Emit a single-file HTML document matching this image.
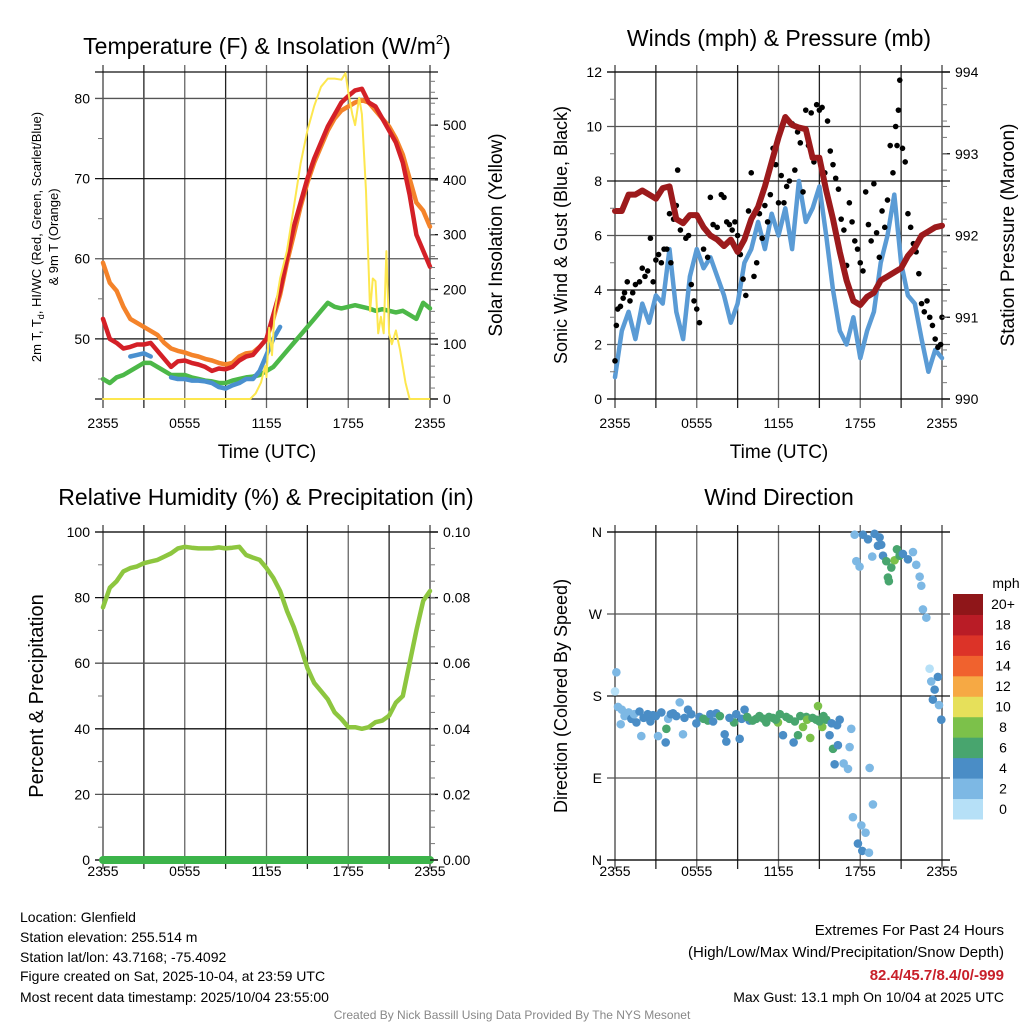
<!DOCTYPE html>
<html><head><meta charset="utf-8"><style>
html,body{margin:0;padding:0;background:#fff;width:1024px;height:1024px;overflow:hidden}
svg{display:block;font-family:"Liberation Sans",Arial,sans-serif}
</style></head><body>
<svg id="chart" width="1024" height="1024" viewBox="0 0 1024 1024">
<g id="grids"></g>
<g id="marks"></g>
<g id="axes"></g>
<text x="267" y="54" font-size="23" text-anchor="middle">Temperature (F) &amp; Insolation (W/m<tspan font-size="13" dy="-10">2</tspan><tspan dy="10">)</tspan></text>
<text x="779" y="46" font-size="23" text-anchor="middle">Winds (mph) &amp; Pressure (mb)</text>
<text x="266" y="505" font-size="23" text-anchor="middle">Relative Humidity (%) &amp; Precipitation (in)</text>
<text x="779" y="505" font-size="23" text-anchor="middle">Wind Direction</text>
<text transform="translate(41,237) rotate(-90)" font-size="13" text-anchor="middle">2m T, T<tspan font-size="9" dy="3">d</tspan><tspan dy="-3">, HI/WC (Red, Green, Scarlet/Blue)</tspan></text>
<text transform="translate(58,237) rotate(-90)" font-size="13" text-anchor="middle">&amp; 9m T (Orange)</text>
<text transform="translate(502,235) rotate(-90)" font-size="19" text-anchor="middle">Solar Insolation (Yellow)</text>
<text transform="translate(567,235) rotate(-90)" font-size="18" text-anchor="middle">Sonic Wind &amp; Gust (Blue, Black)</text>
<text transform="translate(1014,235) rotate(-90)" font-size="19" text-anchor="middle">Station Pressure (Maroon)</text>
<text transform="translate(43,696) rotate(-90)" font-size="20" text-anchor="middle">Percent &amp; Precipitation</text>
<text transform="translate(567,696) rotate(-90)" font-size="18" text-anchor="middle">Direction (Colored By Speed)</text>
<text x="267" y="458" font-size="19" text-anchor="middle">Time (UTC)</text>
<text x="779" y="458" font-size="19" text-anchor="middle">Time (UTC)</text>
<g font-size="14">
<text x="20" y="922">Location: Glenfield</text>
<text x="20" y="942">Station elevation: 255.514 m</text>
<text x="20" y="962">Station lat/lon: 43.7168; -75.4092</text>
<text x="20" y="981">Figure created on Sat, 2025-10-04, at 23:59 UTC</text>
<text x="20" y="1002">Most recent data timestamp: 2025/10/04 23:55:00</text>
</g>
<g font-size="15" text-anchor="end">
<text x="1004" y="935">Extremes For Past 24 Hours</text>
<text x="1004" y="957">(High/Low/Max Wind/Precipitation/Snow Depth)</text>
<text x="1004" y="980" fill="#c8202a" font-weight="bold">82.4/45.7/8.4/0/-999</text>
<text x="1004" y="1002" font-size="14">Max Gust: 13.1 mph On 10/04 at 2025 UTC</text>
</g>
<text x="512" y="1019" font-size="12" fill="#888" text-anchor="middle">Created By Nick Bassill Using Data Provided By The NYS Mesonet</text>
</svg>
<script>
// ---- data (hours since 2355 UTC) ----
const halfHours = [0,0.5,1,1.5,2,2.5,3,3.5,4,4.5,5,5.5,6,6.5,7,7.5,8,8.5,9,9.5,10,10.5,11,11.5,12,12.5,13,13.5,14,14.5,15,15.5,16,16.5,17,17.5,18,18.5,19,19.5,20,20.5,21,21.5,22,22.5,23,23.5,24];
const xTickLabels = ["2355","0555","1155","1755","2355"];
const temp2m = [52.5,50,49.5,48.8,49,49.3,49.3,49.5,48.5,47.5,46.5,47.2,47.3,47,46.8,46.5,46,46.3,46.2,46.5,47.3,47.8,48,49,50,53,56,60,64,67,70,72.5,74.5,76.5,78,79.5,80.3,81,81.2,79.5,79,77.5,76,74.5,72,68,63,61,59];
const temp9m = [59.5,57,56,54,52.5,52,51.5,51,50.5,49.5,48.8,48.5,48.3,48,47.8,47.5,47.3,47,46.8,47,47.8,48.2,48.3,49,50,52.5,55.5,59.5,63,66.5,69.5,72,74,76,77.5,78.5,79,79.5,79.8,79.5,78.5,77.5,76.5,75,73,70,67,66,64];
const dewpoint = [45,44.5,45.2,45.5,46,46.5,47,47,46.5,46,45.5,45.5,45.5,45.2,45,44.8,44.7,44.5,44.5,44.8,45,45.2,45.3,45.5,46,46.5,47.5,48.5,49.5,50.5,51.5,52.5,53.5,54.5,54,53.8,54,54.2,54,53.8,53.5,53.7,53.5,53.3,53.5,53,52.5,54.5,53.8];
const heatIndex = [null,null,null,null,47.8,48,48.2,47.8,null,null,45.2,45,45,44.8,44.8,44.7,44.5,44,43.8,44.2,44.5,45,45,46,48,50,51.5,null,56.5,null,null,null,null,null,null,null,null,null,null,null,null,null,null,null,null,null,null,null,null];
const solarTimes = [0,10.8,11.2,11.6,11.9,12.0,12.2,12.4,12.6,13,13.5,14,14.5,15,15.5,16,16.5,17,17.5,17.8,18,18.3,18.5,18.8,19,19.3,19.6,19.8,20.0,20.2,20.4,20.6,20.8,21,21.2,21.5,21.8,22.2,22.5,24];
const solar = [0,0,10,30,60,40,130,80,160,220,270,350,430,490,535,570,585,585,583,595,560,520,500,550,520,380,160,220,215,120,150,120,270,120,100,125,90,30,0,0];
const windSpeed = [0.8,2.5,3.2,2.2,3.5,2.8,3.8,3.5,5.5,3.2,2.2,4.5,5.5,4.8,5.2,4.5,3.8,2.8,3.5,5.0,5.5,6.5,5.5,6.8,6.0,7.0,5.5,8.0,6.5,7.0,7.8,6.0,4.0,2.5,2.0,3.0,1.5,2.5,3.2,5.0,6.0,7.5,5.0,3.8,3.5,2.2,1.0,1.8,1.5];
const pressure = [992.3,992.3,992.5,992.5,992.55,992.5,992.45,992.58,992.6,992.2,992.15,992.25,992.25,992.1,992.0,991.95,991.87,991.95,991.8,991.95,992.2,992.35,992.6,992.9,993.2,993.45,993.35,993.32,993.3,992.95,992.95,992.55,992.2,991.8,991.45,991.2,991.15,991.25,991.3,991.45,991.5,991.55,991.6,991.75,991.85,992.0,992.05,992.1,992.12];
const gustTimes = [0.0,0.1,0.2,0.4,0.6,0.7,0.9,1.1,1.3,1.5,1.8,2.0,2.2,2.4,2.6,2.8,3.0,3.2,3.4,3.6,3.8,4.0,4.1,4.3,4.5,4.6,4.8,5.0,5.2,5.4,5.6,5.8,6.0,6.2,6.5,6.8,7.0,7.2,7.5,7.8,8.0,8.2,8.4,8.6,8.8,9.0,9.2,9.4,9.6,9.8,10.0,10.2,10.4,10.6,10.8,11.0,11.2,11.4,11.6,11.8,12.0,12.2,12.4,12.6,12.8,13.0,13.2,13.4,13.6,13.8,14.0,14.2,14.4,14.6,14.8,15.0,15.2,15.4,15.6,15.8,16.0,16.2,16.4,16.6,16.8,17.0,17.2,17.4,17.6,17.8,18.0,18.2,18.4,18.6,18.8,19.0,19.2,19.4,19.6,19.8,20.0,20.2,20.4,20.6,20.7,20.8,20.9,21.1,21.3,21.5,21.7,21.9,22.1,22.3,22.5,22.7,22.9,23.1,23.3,23.5,23.7,23.9,24.0];
const gusts = [1.4,2.7,3.3,3.4,3.7,3.9,4.3,3.6,3.9,4.2,4.3,4.8,4.5,4.7,5.9,4.3,5.1,5.3,5.0,5.5,5.5,6.8,5.0,6.6,7.1,8.4,6.2,6.5,5.9,6.0,4.2,3.6,3.3,2.8,5.5,5.2,7.4,6.4,6.3,7.5,7.4,6.5,6.4,6.2,6.5,6.0,5.3,4.4,3.8,6.9,8.3,4.5,5.0,6.8,5.9,7.1,6.5,7.5,9.2,8.6,7.2,8.2,7.2,7.8,8.0,10.1,8.4,9.8,9.4,7.6,10.6,9.3,10.5,8.7,10.8,10.6,10.7,8.3,10.2,9.1,8.6,8.1,7.7,6.6,6.2,4.9,7.2,6.5,5.8,5.5,5.0,4.7,7.6,6.4,5.8,7.9,6.1,5.2,6.9,6.3,7.3,9.3,8.3,10.0,9.3,10.6,11.7,9.2,8.7,6.8,6.3,5.7,5.4,4.6,3.5,3.2,3.6,3.0,2.7,2.2,1.9,2.0,3.0];
const relHumidity = [77,83,85,88,89,89.5,90.5,91,91.5,92.5,93.5,95,95.5,95.2,95,95,95,95.3,95,95.2,95.5,93,92.2,91.5,89,86,82,76,71,65,58.5,54,51.5,49,45,43,40.5,40.5,40,40.5,42,42.5,44,48,50,60,70,79,82];
const precip = [0,0,0,0,0,0,0,0,0,0,0,0,0,0,0,0,0,0,0,0,0,0,0,0,0,0,0,0,0,0,0,0,0,0,0,0,0,0,0,0,0,0,0,0,0,0,0,0,0];
const dirTimes = [0.1,0,0.22,0.83,0.42,1.57,1.93,2.79,3.16,3.77,3.72,4.26,4.75,4.99,5.36,5.97,6.82,7.44,8.05,8.17,8.73,9.15,9.51,9.88,10.37,11.1,11.59,11.96,12.33,12.57,13.11,13.43,13.8,14.04,14.33,14.77,14.9,15.21,15.51,15.75,16.0,16.12,16.36,16.49,16.78,17.1,17.34,17.22,18.69,18.93,17.46,18.08,18.39,17.83,18.15,18.64,17.59,17.71,17.95,18.2,18.57,19.05,19.42,19.3,18.88,19.67,19.91,19.54,20.1,20.03,20.28,20.52,20.69,20.89,21.13,21.5,21.87,22.11,22.36,22.48,22.6,22.85,23.09,23.21,23.46,23.7,23.33,23.78,23.95,
 0.5,0.7,1.0,1.2,1.4,1.8,2.1,2.4,2.6,3.0,3.4,3.9,4.1,4.5,5.1,5.6,6.2,6.5,7.0,7.2,7.7,8.4,8.9,9.3,9.7,10.1,10.6,10.9,11.3,11.8,12.1,12.8,13.2,13.6,14.1,14.5,15.0,15.3,15.9,16.3];
const dirDeg = [206,185,168,161,149,151,136,159,136,144,129,161,173,138,165,150,153,161,138,130,151,133,165,153,155,151,156,151,137,157,129,137,146,157,134,154,169,146,154,137,122,105,126,154,106,100,144,124,101,61,47,38,30,18,10,8,357,328,322,357,352,358,354,345,333,334,328,346,306,310,321,329,341,334,336,330,338,324,311,301,275,266,210,196,187,201,176,170,154,
 165,158,162,155,160,163,156,160,152,158,162,155,160,158,156,160,157,155,160,152,158,156,160,155,157,153,158,155,157,154,160,155,152,158,154,156,152,158,150,148];
const dirSpeed = [3,1.5,2.5,2.5,2.5,4,2.5,4,2.5,6,4,4,2.5,2.5,4,4,6,4,4,4,6,4,4,4,6,6,6,8,4,6,4,6,8,6,8,6,8,8,6,4,6,4,4,4,2.5,2.5,2.5,2.5,2.5,2.5,2.5,2.5,2.5,4,4,2.5,2.5,2.5,2.5,4,4,4,4,4,2.5,4,6,4,6,6,6,8,6,6,4,4,2.5,2.5,2.5,2.5,3,2.5,1,2.5,4,4,4,2.5,4,
 2.5,2.5,2.5,4,2.5,4,4,4,4,4,4,2.5,4,4,4,4,4,6,4,4,6,4,4,4,6,6,6,6,6,6,6,6,6,6,8,6,6,6,4,4];
const speedBinLabels = ["0","2","4","6","8","10","12","14","16","18","20+"];
const speedColors = ["#b6e0f7","#7db8e4","#4a8dc6","#48a56e","#7cc14a","#e6e05a","#f6a944","#f0622e","#dc3328","#b91c26","#8f1619"];

// ---- helpers ----
const NS="http://www.w3.org/2000/svg";
const grids=document.getElementById('grids'), marks=document.getElementById('marks'), axes=document.getElementById('axes');
function el(tag,parent,attrs){const e=document.createElementNS(NS,tag);for(const k in attrs)e.setAttribute(k,attrs[k]);parent.appendChild(e);return e;}
function scale(d0,d1,r0,r1){return v=>r0+(v-d0)*(r1-r0)/(d1-d0);}
const P1={x0:103,x1:430,y0:72,y1:399,lab:29}, P2={x0:615,x1:942,y0:72,y1:399,lab:29}, P3={x0:103,x1:430,y0:532,y1:860,lab:16}, P4={x0:615,x1:942,y0:532,y1:860,lab:16};
[P1,P2,P3,P4].forEach(p=>{p.x=scale(0,24,p.x0,p.x1);});
P1.y=scale(42.5,83.3,P1.y1,P1.y0); P1.yr=scale(0,597,P1.y1,P1.y0);
P2.y=scale(0,12,P2.y1,P2.y0); P2.yr=scale(990,994,P2.y1,P2.y0);
P3.y=scale(0,100,P3.y1,P3.y0); P3.yr=scale(0,0.1,P3.y1,P3.y0);
P4.y=scale(0,360,P4.y1,P4.y0);

function frame(p,name,hVals,hLabels,minorL,rMaj,rLabels,rMinor){
  for(let i=0;i<=8;i++){const x=p.x(i*3);
    const l=el('line',grids,{x1:x,x2:x,y1:p.y0-7,y2:p.y1+9,stroke:(i%2?'#222':'#666'),'stroke-width':(i==0||i==8)?1.6:1.3});
    
    
    if(i%2==0){const t=el('text',axes,{x:x,y:p.y1+p.lab,'font-size':14,'text-anchor':'middle'});t.textContent=xTickLabels[i/2];
      
      }
  }
  hVals.forEach((v,i)=>{const y=p.y(v);
    const l=el('line',grids,{x1:p.x0-8,x2:p.x1+8,y1:y,y2:y,stroke:(i%2?'#555':'#111'),'stroke-width':1.3});
    
    
    const t=el('text',axes,{x:p.x0-13,y:y+5,'font-size':14,'text-anchor':'end'});t.textContent=hLabels[i];
    
    
  });
  el('line',grids,{x1:p.x0-8,x2:p.x1+8,y1:p.y0,y2:p.y0,stroke:'#111','stroke-width':1.3});
  el('line',grids,{x1:p.x0-8,x2:p.x1+8,y1:p.y1,y2:p.y1,stroke:'#111','stroke-width':1.3});
  minorL.forEach(v=>{const y=p.y(v);el('line',axes,{x1:p.x0-5,x2:p.x0,y1:y,y2:y,stroke:'#777','stroke-width':1});});
  if(rMaj){
    rMaj.forEach((v,i)=>{const y=p.yr(v);el('line',axes,{x1:p.x1,x2:p.x1+8,y1:y,y2:y,stroke:'#111','stroke-width':1.3});
      const t=el('text',axes,{x:p.x1+13,y:y+5,'font-size':14});t.textContent=rLabels[i];
      
      });
    rMinor.forEach(v=>{const y=p.yr(v);el('line',axes,{x1:p.x1,x2:p.x1+5,y1:y,y2:y,stroke:'#777','stroke-width':1});});
  }
}
function range(a,b,s){const r=[];for(let v=a;v<=b+1e-9;v+=s)r.push(+v.toFixed(4));return r;}

frame(P1,'temp',[50,60,70,80],["50","60","70","80"],[45,55,65,75],range(0,500,100),["0","100","200","300","400","500"],range(20,580,20));
frame(P2,'wind',range(0,12,2),["0","2","4","6","8","10","12"],[1,3,5,7,9,11],range(990,994,1),["990","991","992","993","994"],range(990.2,993.8,0.2));
frame(P3,'rh',range(0,100,20),["0","20","40","60","80","100"],range(10,90,20),range(0,0.1,0.02),["0.00","0.02","0.04","0.06","0.08","0.10"],range(0.005,0.095,0.005));
frame(P4,'dir',[0,90,180,270,360],["N","E","S","W","N"],[],null);

function line(p,xs,ys,yfn,color,w,name){
  let d='',pen=false;
  xs.forEach((t,i)=>{const v=ys[i];if(v===null||v===undefined){pen=false;return;}
    d+=(pen?'L':'M')+p.x(t).toFixed(1)+','+yfn(v).toFixed(1);pen=true;});
  const e=el('path',marks,{d:d,fill:'none',stroke:color,'stroke-width':w,'stroke-linejoin':'round','stroke-linecap':'round'});
  
  
}
line(P1,halfHours,temp9m,P1.y,'#f4832a',4.5,'temp-9m-line');
line(P1,halfHours,dewpoint,P1.y,'#4cb848',4.5,'dewpoint-line');
line(P1,halfHours,heatIndex,P1.y,'#4a90cf',4.5,'heat-index-line');
line(P1,halfHours,temp2m,P1.y,'#d42027',4.5,'temp-2m-line');
line(P1,solarTimes,solar,P1.yr,'#fde74f',2,'solar-line');
line(P2,halfHours,windSpeed,P2.y,'#5a9bd5',4.5,'wind-speed-line');
gustTimes.forEach((t,i)=>{const c=el('circle',marks,{cx:P2.x(t),cy:P2.y(gusts[i]),r:2.8,fill:'#000'});
  
  });
line(P2,halfHours,pressure,P2.yr,'#9c1a1c',6,'pressure-line');
line(P3,halfHours,relHumidity,P3.y,'#8dc63f',4.5,'rh-line');
line(P3,halfHours,precip,P3.yr,'#3cb44a',8,'precip-line');
dirTimes.forEach((t,i)=>{const b=Math.min(10,Math.floor(dirSpeed[i]/2));
  const c=el('circle',marks,{cx:P4.x(t),cy:P4.y(dirDeg[i]),r:4.3,fill:speedColors[b]});
  
  });
// colorbar
const cb=el('g',axes,{});


const bandH=225/11;
speedColors.forEach((c,i)=>{const y=594+(10-i)*bandH;
  const r=el('rect',cb,{x:953,y:y,width:30,height:bandH+0.5,fill:c});
  
  
  const t=el('text',cb,{x:1003,y:y+bandH/2+5,'font-size':14,'text-anchor':'middle'});t.textContent=speedBinLabels[i];
  
  });
const mt=el('text',cb,{x:1006,y:588,'font-size':14,'text-anchor':'middle'});mt.textContent='mph';


</script>
</body></html>
